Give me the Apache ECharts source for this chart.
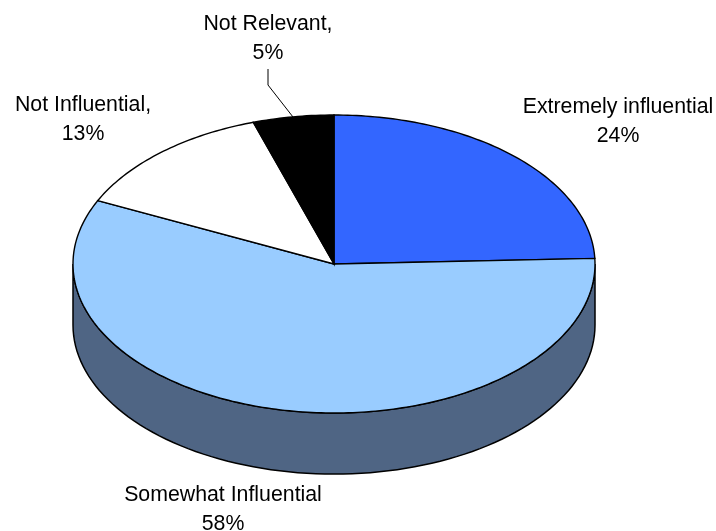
<!DOCTYPE html>
<html>
<head>
<meta charset="utf-8">
<style>
  html, body { margin: 0; padding: 0; background: #fff; }
  #chart { width: 716px; height: 531px; }
</style>
<script src="https://cdn.jsdelivr.net/npm/echarts@6/dist/echarts.min.js"></script>
</head>
<body>
<div id="chart"></div>
<script>
var categories = ["Extremely influential", "Somewhat Influential", "Not Influential,", "Not Relevant,"];
var percents = [24.4, 57.6, 13, 5]; // label shows these rounded
var colors = ["#3366ff", "#99ccff", "#ffffff", "#000000"];
var labelPos = [[618, 122], [223, 510], [83, 120], [268, 39]];
var depth = 0.41; // wall height, in y axis units

var chart = echarts.init(document.getElementById("chart"));
var total = percents.reduce(function (a, b) { return a + b; }, 0);

function rimPoint(api, deg, drop) {
  var r = deg * Math.PI / 180;
  return api.coord([Math.sin(r), Math.cos(r) - (drop || 0)]);
}

function renderWall(params, api) {
  var pts = [];
  for (var a = 90; a <= 270; a += 2) pts.push(rimPoint(api, a));
  for (var b = 270; b >= 90; b -= 2) pts.push(rimPoint(api, b, depth));
  return {
    type: "polygon",
    shape: { points: pts },
    style: { fill: "#4f6584", stroke: "#000", lineWidth: 1.5 }
  };
}

function renderSlice(params, api) {
  var i = params.dataIndex;
  var before = percents.slice(0, i).reduce(function (a, b) { return a + b; }, 0);
  var start = before / total * 360;
  var end = (before + percents[i]) / total * 360;
  var pts = [api.coord([0, 0])];
  for (var a = start; a < end; a += 1) pts.push(rimPoint(api, a));
  pts.push(rimPoint(api, end));
  return {
    type: "group",
    children: [
      {
        type: "polygon",
        shape: { points: pts },
        style: { fill: colors[i], stroke: "#000", lineWidth: 1.4 }
      },
      {
        type: "text",
        x: labelPos[i][0],
        y: labelPos[i][1],
        style: {
          text: categories[i] + "\n" + Math.round(percents[i]) + "%",
          fill: "#000",
          font: "21.3px 'Liberation Sans', Arial, sans-serif",
          align: "center",
          verticalAlign: "middle",
          lineHeight: 29
        }
      }
    ]
  };
}

chart.setOption({
  animation: false,
  backgroundColor: "#fff",
  grid: { left: 73, top: 115, width: 522, height: 298 },
  xAxis: { type: "value", min: -1, max: 1, show: false },
  yAxis: { type: "value", min: -1, max: 1, show: false },
  graphic: [{
    type: "polyline",
    shape: { points: [[268, 69], [268, 85], [293, 117]] },
    style: { stroke: "#000", lineWidth: 1, fill: null },
    z: 10
  }],
  series: [
    { type: "custom", clip: false, silent: true, data: [[0, 0]], renderItem: renderWall, z: 1 },
    { type: "custom", clip: false, silent: true, data: percents.map(function (p, i) { return [i, p]; }), renderItem: renderSlice, z: 2 }
  ]
});
</script>
</body>
</html>
